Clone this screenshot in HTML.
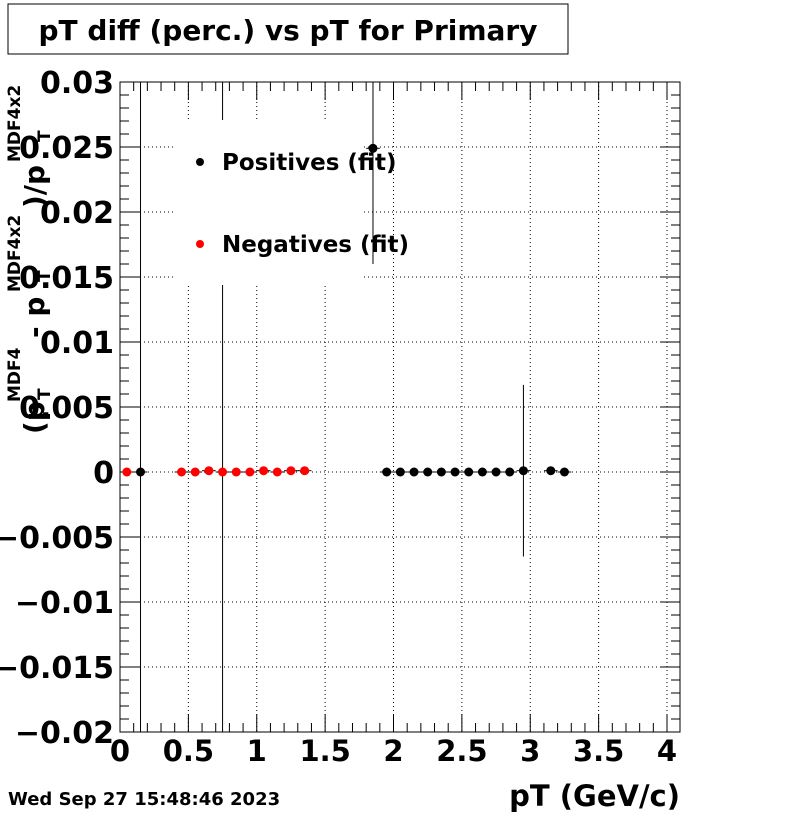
<!DOCTYPE html>
<html><head><meta charset="utf-8"><style>
html,body{margin:0;padding:0;background:#fff;}
svg{display:block;font-family:"DejaVu Sans","Liberation Sans",sans-serif;font-weight:bold;}
</style></head><body>
<svg id="c" width="800" height="814" xmlns="http://www.w3.org/2000/svg">
<rect x="8" y="4" width="560" height="50" fill="#fff" stroke="#000" stroke-width="1"/>
<text x="288" y="40" font-size="28" text-anchor="middle">pT diff (perc.) vs pT for Primary</text>
<g id="grid"></g>
<g id="ticks"></g>
<g id="redg"></g>
<rect x="173" y="120" width="189" height="165" fill="#fff"/>
<g>
<circle cx="200" cy="162" r="4" fill="#000"/>
<text x="222" y="170" font-size="23">Positives (fit)</text></g>
<g>
<circle cx="200" cy="244" r="4" fill="#f00"/>
<text x="222" y="252" font-size="23">Negatives (fit)</text></g>
<g id="blackg"></g>
<rect x="120" y="82" width="560" height="650" fill="none" stroke="#000" stroke-width="1"/>
<g id="labels"></g>
<text x="680" y="806" font-size="29" text-anchor="end">pT (GeV/c)</text>
<g>
<text transform="translate(44,434) rotate(-90)" font-size="28">(p</text>
<text transform="translate(50,400) rotate(-90)" font-size="17">T</text>
<text transform="translate(20,402) rotate(-90)" font-size="17">MDF4</text>
<text transform="translate(44,338) rotate(-90)" font-size="28"> - p</text>
<text transform="translate(50,282) rotate(-90)" font-size="17">T</text>
<text transform="translate(20,292) rotate(-90)" font-size="17">MDF4x2</text>
<text transform="translate(44,208) rotate(-90)" font-size="28">)/p</text>
<text transform="translate(50,142) rotate(-90)" font-size="17">T</text>
<text transform="translate(20,162) rotate(-90)" font-size="17">MDF4x2</text>
</g>
<text x="8" y="805" font-size="18">Wed Sep 27 15:48:46 2023</text>
</svg>
<script>
const xTicks=[0,0.5,1,1.5,2,2.5,3,3.5,4];
const xTickLabels=["0","0.5","1","1.5","2","2.5","3","3.5","4"];
const yTicks=[0.03,0.025,0.02,0.015,0.01,0.005,0,-0.005,-0.01,-0.015,-0.02];
const yTickLabels=["0.03","0.025","0.02","0.015","0.01","0.005","0","\u22120.005","\u22120.01","\u22120.015","\u22120.02"];
const negX=[0.05,0.45,0.55,0.65,0.75,0.85,0.95,1.05,1.15,1.25,1.35];
const negY=[0,0,0,0.0001,0,0,0,0.0001,0,0.0001,0.0001];
const negErr=[0,0,0,0,0.06,0,0,0,0,0,0];
const posX=[0.15,1.85,1.95,2.05,2.15,2.25,2.35,2.45,2.55,2.65,2.75,2.85,2.95,3.15,3.25];
const posY=[0,0.0249,0,0,0,0,0,0,0,0,0,0,0.0001,0.0001,0];
const posErr=[0.06,0.0089,0,0,0,0,0,0,0,0,0,0,0.0066,0,0];
const X0=120,X1=680,Y0=82,Y1=732,xmin=0,xmax=4.095,ymin=-0.02,ymax=0.03;
const sx=v=>X0+(v-xmin)/(xmax-xmin)*(X1-X0);
const sy=v=>Y1-(v-ymin)/(ymax-ymin)*(Y1-Y0);
const NS="http://www.w3.org/2000/svg";
function mk(p,t,a){const e=document.createElementNS(NS,t);for(const k in a)e.setAttribute(k,a[k]);p.appendChild(e);return e;}
const grid=document.getElementById('grid'),ticks=document.getElementById('ticks'),labels=document.getElementById('labels');
xTicks.forEach((v,i)=>{const x=sx(v);
 if(v>0){const g=mk(grid,'line',{x1:x,y1:Y0,x2:x,y2:Y1,stroke:'#000','stroke-dasharray':'1,3','stroke-width':1});
 
 }
 const t=mk(labels,'text',{x:x,y:761,'font-size':29,'text-anchor':'middle'});t.textContent=xTickLabels[i];
 
 
});
for(let v=0;v<=4.09;v+=0.1){const x=sx(v);const maj=Math.abs(v/0.5-Math.round(v/0.5))<1e-6;const L=maj?18:9;
 mk(ticks,'line',{x1:x,y1:Y1,x2:x,y2:Y1-L,stroke:'#000'});mk(ticks,'line',{x1:x,y1:Y0,x2:x,y2:Y0+L,stroke:'#000'});}
yTicks.forEach((v,i)=>{const y=sy(v);
 if(v<0.03&&v>-0.02){const g=mk(grid,'line',{x1:X0,y1:y,x2:X1,y2:y,stroke:'#000','stroke-dasharray':'1,3','stroke-width':1});
 
 }
 const t=mk(labels,'text',{x:114,y:y+11,'font-size':30,'text-anchor':'end'});t.textContent=yTickLabels[i];
 
 
});
for(let k=0;k<=50;k++){const v=-0.02+k*0.001;const y=sy(v);const L=(k%5==0)?20:9;
 mk(ticks,'line',{x1:X0,y1:y,x2:X0+L,y2:y,stroke:'#000'});mk(ticks,'line',{x1:X1,y1:y,x2:X1-L,y2:y,stroke:'#000'});}
function series(gid,xs,ys,es,col,name){const g=document.getElementById(gid);
 xs.forEach((v,i)=>{const x=sx(v),y=sy(ys[i]);
  mk(g,'line',{x1:sx(v-0.05),y1:y,x2:sx(v+0.05),y2:y,stroke:'#000'});
  if(es[i]>0){mk(g,'line',{x1:x,y1:Math.max(Y0,sy(ys[i]+es[i])),x2:x,y2:Math.min(Y1,sy(ys[i]-es[i])),stroke:'#000'});}
  const c=mk(g,'circle',{cx:x,cy:y,r:4.5,fill:col});
  
  
 });}
series('redg',negX,negY,negErr,'#f00','negative-point');
series('blackg',posX,posY,posErr,'#000','positive-point');
</script>
</body></html>
